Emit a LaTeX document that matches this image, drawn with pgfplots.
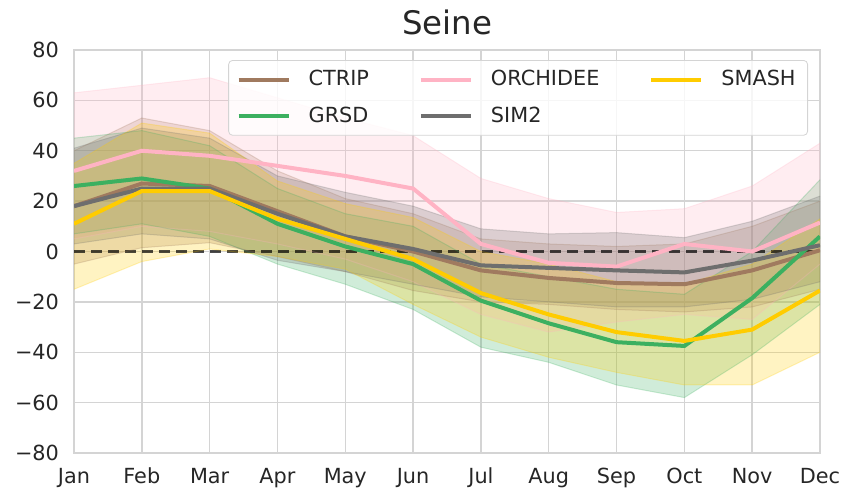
\documentclass[border=0pt]{standalone}
\usepackage{fontspec}
\setmainfont{DejaVu Sans}
\usepackage{pgfplots}
\usepackage{pgfplotstable}
\pgfplotsset{compat=1.18}
\usepgfplotslibrary{fillbetween}

\definecolor{ctrip}{RGB}{160,122,95}
\definecolor{grsd}{RGB}{60,176,96}
\definecolor{orch}{RGB}{255,179,196}
\definecolor{sim}{RGB}{110,110,110}
\definecolor{smash}{RGB}{255,204,0}
\definecolor{gridc}{RGB}{212,212,212}
\definecolor{txt}{RGB}{38,38,38}

% month index, mean, lower and upper envelope
\pgfplotstableread{
m mean lo hi
0 18 -5 40
1 27 1.5 53
2 26 3.5 48
3 16 -2 32
4 6 -8 21
5 0 -15.5 15
6 -7.5 -20 5
7 -10.5 -21 3
8 -12.5 -23 2
9 -13 -24 3
10 -7.5 -22 10
11 0.5 -15 20
}\tctrip
\pgfplotstableread{
m mean lo hi
0 26 7 45
1 29 11 48
2 25 6 42
3 11 -5 25
4 2 -13 15
5 -5 -23 10
6 -19.5 -38 -5
7 -28.5 -44 -10
8 -36 -53 -15
9 -37.5 -58 -17
10 -18.5 -41 0
11 6 -21 28.5
}\tgrsd
\pgfplotstableread{
m mean lo hi
0 32 5 63
1 40 10 66
2 38 8 69
3 34 3 61
4 30 -3 53
5 25 -12 46
6 3 -25 29
7 -4.5 -32 21
8 -6 -28 15.5
9 3 -25 17
10 0 -27 26
11 11.5 -5 43
}\torch
\pgfplotstableread{
m mean lo hi
0 18 3 41
1 25 7 49
2 25 5 45
3 15 -3.5 30
4 6 -8 23.5
5 1 -13 18
6 -5.5 -18 9
7 -6.5 -20 7
8 -7.5 -22 7.5
9 -8.3 -22 5.5
10 -3.6 -19 12
11 2.5 -12 22
}\tsim
\pgfplotstableread{
m mean lo hi
0 11 -15 35
1 24 -4 51
2 24 1 47
3 13 -2 28
4 5 -7 19
5 -3 -21 13.5
6 -16.5 -34 0
7 -25 -42 -5
8 -32 -48 -12
9 -35.5 -53 -13
10 -31 -53 -5
11 -15.5 -40 13
}\tsmash

% shaded envelope of one model
\newcommand{\band}[2]{%
  \addplot[draw=#2, draw opacity=0.25, line width=0.5pt, name path=hi#2, forget plot] table[x=m,y=hi]{#1};
  \addplot[draw=#2, draw opacity=0.25, line width=0.5pt, name path=lo#2, forget plot] table[x=m,y=lo]{#1};
  \addplot[#2, fill opacity=0.24, draw=none, forget plot] fill between[of=hi#2 and lo#2];
}

\begin{document}
\begin{tikzpicture}
\begin{axis}[
    at={(0,0)}, anchor=south west,
    scale only axis,
    width=373pt, height=201.5pt,
    xmin=0, xmax=11, ymin=-80, ymax=80,
    xtick={0,...,11},
    xticklabels={Jan,Feb,Mar,Apr,May,Jun,Jul,Aug,Sep,Oct,Nov,Dec},
    ytick={-80,-60,-40,-20,0,20,40,60,80},
    yticklabels={−80,−60,−40,−20,0,20,40,60,80},
    tick label style={font=\fontsize{10.4}{12}\selectfont, text=txt},
    yticklabel style={xshift=-4pt},
    xticklabel style={yshift=-4pt},
    major tick length=0pt,
    grid=major,
    grid style={gridc, line width=0.7pt},
    axis line style={gridc, line width=0.8pt},
    title={Seine},
    title style={font=\fontsize{16.2}{19}\selectfont, text=txt, yshift=-2pt},
    legend columns=3,
    legend cell align=left,
    legend image code/.code={\draw[#1] (0pt,0pt) -- (25pt,0pt);},
    legend style={at={(rel axis cs:1,1)}, anchor=north east,
        xshift=-6pt, yshift=-5pt,
        draw=gridc, rounded corners=2pt, fill=white, fill opacity=0.8, text opacity=1,
        font=\fontsize{10.4}{12}\selectfont, text=txt,
        row sep=5pt, inner xsep=4pt, inner ysep=3pt,
        /tikz/every odd column/.append style={column sep=7pt},
        /tikz/every even column/.append style={column sep=23pt}},
]
\addplot[black, opacity=0.7, line width=1.2pt, dash pattern=on 5.5pt off 3pt, forget plot]
    coordinates {(0,0) (11,0)};

\band{\tctrip}{ctrip}
\band{\tgrsd}{grsd}
\band{\torch}{orch}
\band{\tsim}{sim}
\band{\tsmash}{smash}

\addplot[ctrip, line width=2pt, forget plot] table[x=m,y=mean]{\tctrip};
\addplot[grsd, line width=2pt, forget plot] table[x=m,y=mean]{\tgrsd};
\addplot[orch, line width=2pt, forget plot] table[x=m,y=mean]{\torch};
\addplot[sim, line width=2pt, forget plot] table[x=m,y=mean]{\tsim};
\addplot[smash, line width=2pt, forget plot] table[x=m,y=mean]{\tsmash};

\addlegendimage{ctrip, line width=2pt}\addlegendentry{CTRIP}
\addlegendimage{orch, line width=2pt}\addlegendentry{ORCHIDEE}
\addlegendimage{smash, line width=2pt}\addlegendentry{SMASH}
\addlegendimage{grsd, line width=2pt}\addlegendentry{GRSD}
\addlegendimage{sim, line width=2pt}\addlegendentry{SIM2}
\end{axis}
\pgfresetboundingbox
\path[use as bounding box] (-37pt,-19pt) rectangle (385pt,226.5pt);
\end{tikzpicture}
\end{document}
